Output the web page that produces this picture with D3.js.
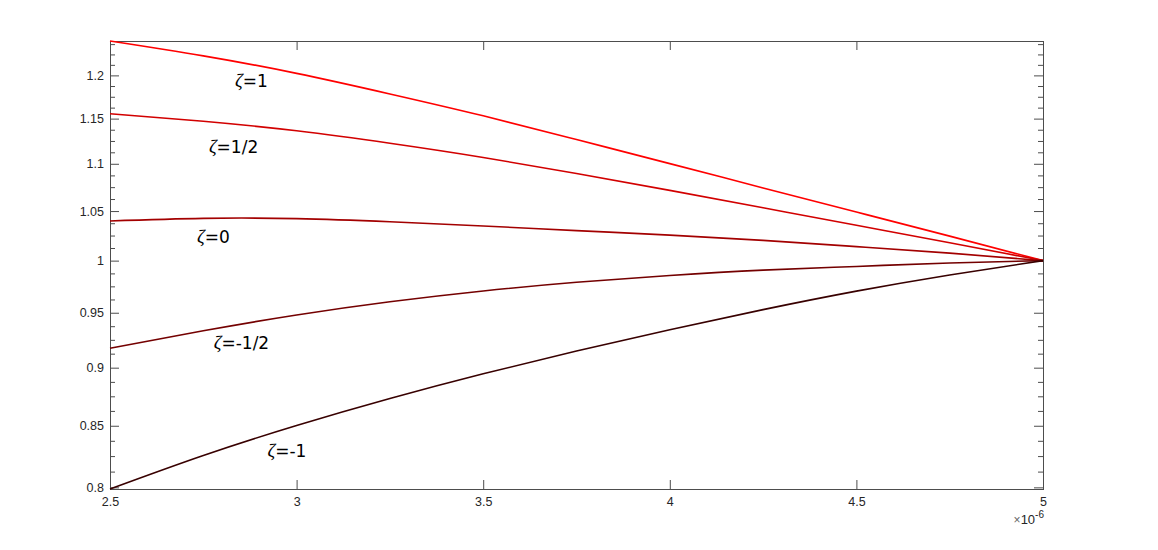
<!DOCTYPE html>
<html>
<head>
<meta charset="utf-8">
<script src="https://cdn.jsdelivr.net/npm/d3@7"></script>
<style>
  body { margin: 0; background: #fff; }
  svg { display: block; }
  .tick text { font-family: 'Liberation Sans', Arial, sans-serif; font-size: 12.5px; fill: #262626; }
  .tick line { stroke: #4d4d4d; }
</style>
</head>
<body>
<svg width="1158" height="550"></svg>
<script>
// data: x in units of 1e-6, ratio per zeta
var xs = [2.5, 2.75, 3, 3.25, 3.5, 3.75, 4, 4.25, 4.5, 4.75, 5];
var xExponent = -6;
var zetaNames = ['1', '1/2', '0', '-1/2', '-1'];
var ratio_z1 = [1.2413, 1.2233, 1.2024, 1.1783, 1.1532, 1.1266, 1.1002, 1.0742, 1.0490, 1.0244, 1];
var ratio_zh = [1.1556, 1.1470, 1.1363, 1.1225, 1.1069, 1.0896, 1.0716, 1.0534, 1.0354, 1.0178, 1];
var ratio_z0 = [1.0398, 1.0425, 1.0422, 1.0390, 1.0347, 1.0300, 1.0254, 1.0201, 1.0139, 1.0074, 1];
var ratio_zmh = [0.9174, 0.9333, 0.9479, 0.9603, 0.9706, 0.9789, 0.9855, 0.9907, 0.9943, 0.9977, 1];
var ratio_zm1 = [0.7987, 0.8255, 0.8502, 0.8731, 0.8946, 0.9149, 0.9343, 0.9529, 0.9704, 0.9860, 1];
// where each curve's label sits (data coords)
var label_x = [2.835, 2.765, 2.733, 2.778, 2.922];
var label_y = [1.1864, 1.1114, 1.0178, 0.9165, 0.8245];
var xTicks = [2.5, 3, 3.5, 4, 4.5, 5];
var yTicks = [0.8, 0.85, 0.9, 0.95, 1, 1.05, 1.1, 1.15, 1.2];

var series = [ratio_z1, ratio_zh, ratio_z0, ratio_zmh, ratio_zm1];
var colors = ['#ff0000', '#d20000', '#a30000', '#740000', '#380000'];

// plot box (note: "top" is taken by window.top)
var boxL = 110, boxR = 1043, boxT = 41, boxB = 489;
var svg = d3.select('svg');

var x = d3.scaleLinear().domain([xs[0], xs[xs.length - 1]]).range([boxL, boxR]);
var allVals = [].concat.apply([], series);
var y = d3.scaleLog().domain([d3.min(allVals), d3.max(allVals)]).range([boxB, boxT]);

// minor y ticks (linear steps between the majors)
var minorY = d3.range(0, 36).map(function(i){ return 0.8 + i * 0.0125; })
  .filter(function(v){ return v <= y.domain()[1] && Math.abs(Math.round(v * 20) - v * 20) > 1e-6; });

var fmt = d3.format('~g');

// axes, ticks pointing inward like matlab
svg.append('g').attr('transform', 'translate(' + boxL + ',0)')
  .call(d3.axisLeft(y).tickValues(yTicks).tickFormat(fmt).tickSize(-9).tickPadding(6))
  .call(function(g){ g.select('.domain').remove(); });
svg.append('g').attr('transform', 'translate(' + boxL + ',0)')
  .call(d3.axisLeft(y).tickValues(minorY).tickFormat('').tickSize(-5))
  .call(function(g){ g.select('.domain').remove(); });
svg.append('g').attr('transform', 'translate(' + boxR + ',0)')
  .call(d3.axisRight(y).tickValues(yTicks).tickFormat('').tickSize(-9))
  .call(function(g){ g.select('.domain').remove(); });
svg.append('g').attr('transform', 'translate(' + boxR + ',0)')
  .call(d3.axisRight(y).tickValues(minorY).tickFormat('').tickSize(-5))
  .call(function(g){ g.select('.domain').remove(); });
svg.append('g').attr('transform', 'translate(0,' + boxB + ')')
  .call(d3.axisBottom(x).tickValues(xTicks).tickFormat(fmt).tickSize(-9).tickPadding(6))
  .call(function(g){ g.select('.domain').remove(); g.selectAll('text').attr('dy', '0.9em'); });
svg.append('g').attr('transform', 'translate(0,' + boxT + ')')
  .call(d3.axisTop(x).tickValues(xTicks).tickFormat('').tickSize(-9))
  .call(function(g){ g.select('.domain').remove(); });

svg.append('rect')
  .attr('x', boxL + 0.5).attr('y', boxT + 0.5)
  .attr('width', boxR - boxL).attr('height', boxB - boxT)
  .attr('fill', 'none').attr('stroke', '#4d4d4d');

// exponent label
var ex = svg.append('text')
  .attr('x', boxR + 1).attr('y', boxB + 35)
  .attr('text-anchor', 'end')
  .attr('font-family', 'Liberation Sans, Arial, sans-serif')
  .attr('fill', '#262626');
ex.append('tspan').attr('font-size', '12px').attr('fill', '#666').text('\u00d7');
ex.append('tspan').attr('font-size', '13px').text('10');
ex.append('tspan').attr('font-size', '10px').attr('dy', -6).text(xExponent);

var line = d3.line()
  .x(function(d, i){ return x(xs[i]); })
  .y(function(d){ return y(d); })
  .curve(d3.curveNatural);

svg.append('g').selectAll('path')
  .data(series)
  .enter().append('path')
  .attr('d', line)
  .attr('fill', 'none')
  .attr('stroke', function(d, i){ return colors[i]; })
  .attr('stroke-width', 1.6);

var labels = svg.append('g').selectAll('text')
  .data(zetaNames)
  .enter().append('text')
  .attr('x', function(d, i){ return x(label_x[i]); })
  .attr('y', function(d, i){ return y(label_y[i]); })
  .attr('font-size', '17px')
  .attr('fill', '#000');
labels.append('tspan')
  .attr('font-family', 'Liberation Serif, serif')
  .attr('font-style', 'italic')
  .attr('font-size', '19px')
  .text('\u03b6');
labels.append('tspan')
  .attr('font-family', 'DejaVu Sans, sans-serif')
  .text(function(d){ return '=' + d; });
</script>
</body>
</html>
